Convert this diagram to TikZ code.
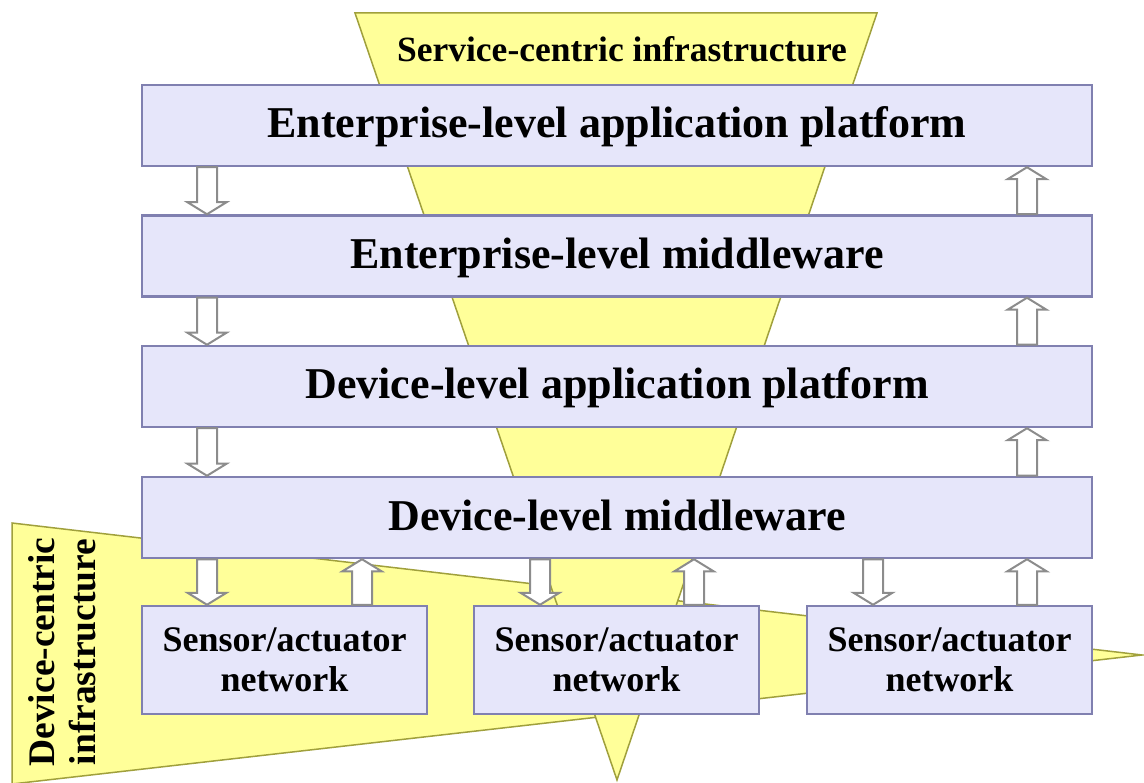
\documentclass[tikz,border=0pt]{standalone}
\usepackage{fontspec}
\setmainfont{Liberation Serif}
\usetikzlibrary{calc}

\definecolor{layerfill}{RGB}{230,230,250}
\definecolor{layerline}{RGB}{128,128,176}
\definecolor{wedgefill}{RGB}{255,255,153}
\definecolor{wedgeline}{RGB}{160,160,60}
\definecolor{flowline}{RGB}{140,140,140}

% hollow block arrow pointing down from the south side of #2 to the north side of #3, at the x of #1
\newcommand\flowdown[3]{%
  \draw[flowarrow] let \p1=(#1 |- #2.south), \p2=(#1 |- #3.north) in
    (\x1-10pt,\y1) -- (\x1+10pt,\y1) -- (\x1+10pt,\y2+12pt) -- (\x1+19.5pt,\y2+12pt)
    -- (\x1,\y2) -- (\x1-19.5pt,\y2+12pt) -- (\x1-10pt,\y2+12pt) -- cycle;}
% hollow block arrow pointing up from the north side of #2 to the south side of #3, at the x of #1
\newcommand\flowup[3]{%
  \draw[flowarrow] let \p1=(#1 |- #2.north), \p2=(#1 |- #3.south) in
    (\x1-10pt,\y1) -- (\x1+10pt,\y1) -- (\x1+10pt,\y2-12pt) -- (\x1+19.5pt,\y2-12pt)
    -- (\x1,\y2) -- (\x1-19.5pt,\y2-12pt) -- (\x1-10pt,\y2-12pt) -- cycle;}

\begin{document}
\begin{tikzpicture}[x=1pt,y=-1pt,
  wedge/.style={fill=wedgefill, draw=wedgeline, line width=1.5pt, line join=miter},
  layer/.style={draw=layerline, fill=layerfill, line width=2.5pt,
    minimum width=950pt, minimum height=81pt, inner sep=0pt,
    font=\bfseries\fontsize{44}{50}\selectfont, text height=31pt, text depth=6pt},
  netbox/.style={draw=layerline, fill=layerfill, line width=2.5pt,
    minimum width=285pt, minimum height=108pt, inner sep=0pt, align=center,
    font=\bfseries\fontsize{36}{40}\selectfont},
  flowarrow/.style={draw=flowline, fill=white, line width=2pt, line join=miter},
  wedgelabel/.style={font=\bfseries\fontsize{35.5}{40}\selectfont, inner sep=0pt}]

\path[use as bounding box] (0,0) rectangle (1144,783);
\clip (0,0) rectangle (1144,783);

% device-centric wedge, widening to the left
\path[wedge] (12,523) -- (1142,655) -- (12,784) -- cycle;
% service-centric wedge, narrowing downwards
\path[wedge] (355,13) -- (877,13) -- (617,780) -- cycle;

\node[wedgelabel, anchor=base] (svc) at (622,62) {Service-centric infrastructure};
\node[wedgelabel, rotate=90, align=center, font=\bfseries\fontsize{37.5}{41}\selectfont]
  (dev) at (62,652) {Device-centric\\infrastructure};

% the four stacked layers
\node[layer] (eap) at (617,125.5) {Enterprise-level application platform};
\node[layer] (emw) at (617,256)   {Enterprise-level middleware};
\node[layer] (dap) at (617,386.5) {Device-level application platform};
\node[layer] (dmw) at (617,517.5) {Device-level middleware};

% sensor/actuator networks
\node[netbox] (san1) at (284.5,660) {Sensor/actuator\\network};
\node[netbox] (san2) at (616.5,660) {Sensor/actuator\\network};
\node[netbox] (san3) at (949.5,660) {Sensor/actuator\\network};

% arrow columns
\coordinate (dl) at (207,0);
\coordinate (ur) at (1027,0);
\coordinate (d1) at (207,0);
\coordinate (u1) at (362,0);
\coordinate (d2) at (540,0);
\coordinate (u2) at (694,0);
\coordinate (d3) at (873,0);
\coordinate (u3) at (1027,0);

\flowdown{dl}{eap}{emw}
\flowdown{dl}{emw}{dap}
\flowdown{dl}{dap}{dmw}
\flowup{ur}{emw}{eap}
\flowup{ur}{dap}{emw}
\flowup{ur}{dmw}{dap}

\flowdown{d1}{dmw}{san1}
\flowdown{d2}{dmw}{san2}
\flowdown{d3}{dmw}{san3}
\flowup{u1}{san1}{dmw}
\flowup{u2}{san2}{dmw}
\flowup{u3}{san3}{dmw}

\end{tikzpicture}
\end{document}
